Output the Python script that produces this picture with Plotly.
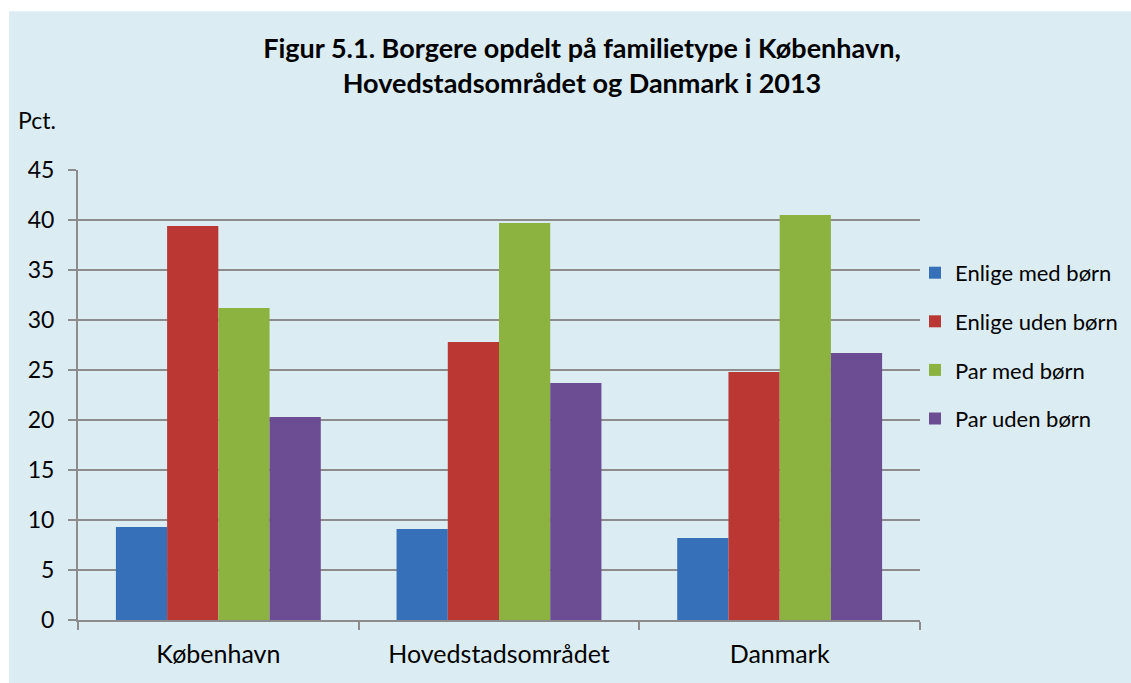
import plotly.graph_objects as go

categories = ["København", "Hovedstadsområdet", "Danmark"]
enlige_med = [9.3, 9.1, 8.2]
enlige_uden = [39.4, 27.8, 24.8]
par_med = [31.2, 39.7, 40.5]
par_uden = [20.3, 23.7, 26.7]

series = [
    ("Enlige med børn", enlige_med, "#3570B8"),
    ("Enlige uden børn", enlige_uden, "#BA3733"),
    ("Par med børn", par_med, "#8CB240"),
    ("Par uden børn", par_uden, "#6C4D93"),
]

FONT = "Lato"
fig = go.Figure()
for i, (name, vals, col) in enumerate(series):
    fig.add_trace(go.Bar(x=categories, y=vals, name=name, marker_color=col,
                         marker_line_width=0, legendgroup=str(i)))

W, H = 1131, 683
L, R, T, B = 78, 211, 170, 62.5
pw = W - L - R
ph = H - T - B

fig.update_layout(
    width=W, height=H,
    margin=dict(l=L, r=R, t=T, b=B, autoexpand=False),
    paper_bgcolor="white",
    plot_bgcolor="rgba(0,0,0,0)",
    barmode="group", bargap=0.27, bargroupgap=0,
    font=dict(family=FONT, size=23, color="black"),
    title=dict(text="<b>Figur 5.1. Borgere opdelt på familietype i København,<br>Hovedstadsområdet og Danmark i 2013</b>",
               x=(582) / W, xanchor="center", y=1 - 58 / H, yanchor="top",
               font=dict(family=FONT, size=27, color="black")),
    legend=dict(x=(915 - L) / pw, y=(620.5 - 252) / ph, xanchor="left", yanchor="top",
                bgcolor="rgba(0,0,0,0)", font=dict(size=22, family=FONT),
                traceorder="grouped", tracegroupgap=17),
    showlegend=True,
)
fig.update_xaxes(showline=True, linecolor="#8c8c8c", linewidth=2,
                 ticks="outside", ticklen=8, tickcolor="#8c8c8c", tickwidth=2,
                 tickson="boundaries", showgrid=False, mirror=False,
                 ticklabelstandoff=11,
                 tickfont=dict(size=25, family=FONT))
fig.update_yaxes(range=[0, 45], dtick=5, showline=True, linecolor="#8c8c8c", linewidth=2,
                 ticks="outside", ticklen=8, tickcolor="#8c8c8c", tickwidth=2,
                 showgrid=True, gridcolor="#8c8c8c", gridwidth=2, zeroline=False,
                 ticklabelstandoff=9,
                 tickfont=dict(size=23, family=FONT))
fig.add_shape(type="rect", xref="paper", yref="paper",
              x0=(9 - L) / pw, x1=(W - L) / pw + 0.01,
              y0=-(H - (T + ph)) / ph - 0.01, y1=(T + ph - 11) / ph,
              fillcolor="#DBEDF3", line_width=0, layer="below")
fig.add_annotation(text="Pct.", xref="paper", yref="paper",
                   x=(16 - L) / pw, y=(T + ph - 120) / ph, xanchor="left", yanchor="middle",
                   showarrow=False, font=dict(size=23, family=FONT, color="black"))
fig.write_html("out.html", config={"displayModeBar": False},
               post_script="document.body.style.margin='0';")
